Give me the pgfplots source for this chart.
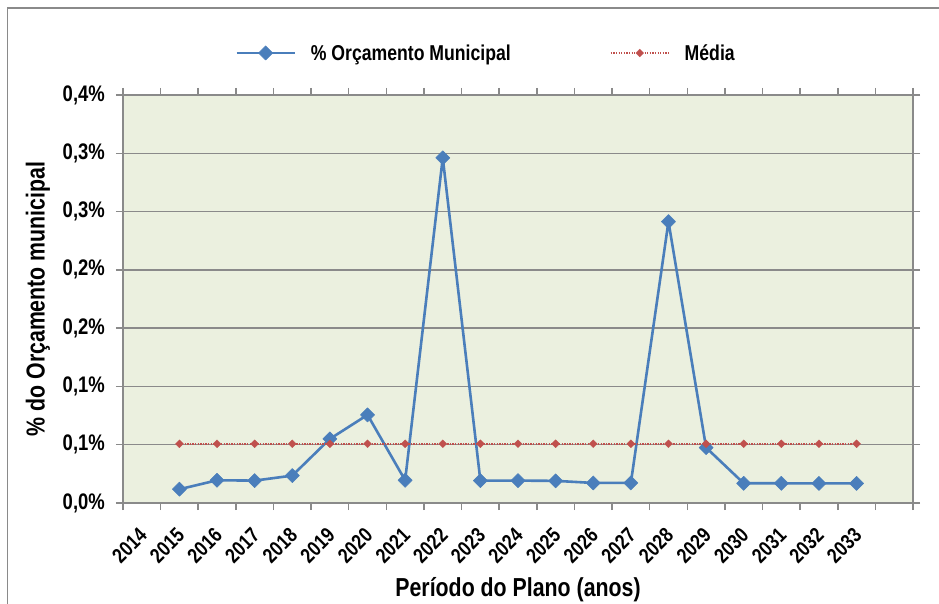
\documentclass[border=0pt]{standalone}
\usepackage{fontspec}
\setmainfont{Liberation Sans}[FakeStretch=0.82]
\usepackage{pgfplots}
\pgfplotsset{compat=1.18}
\definecolor{blu}{HTML}{4A7EBB}
\definecolor{rd}{HTML}{C0504D}
\definecolor{bg}{HTML}{EBF0DF}
\definecolor{gr}{HTML}{8A8A8A}
\pgfplotstableread{
x y
1.5 0.0118
2.5 0.0195
3.5 0.0192
4.5 0.0235
5.5 0.0550
6.5 0.0756
7.5 0.0195
8.5 0.2961
9.5 0.0192
10.5 0.0192
11.5 0.0190
12.5 0.0172
13.5 0.0172
14.5 0.2414
15.5 0.0475
16.5 0.0169
17.5 0.0169
18.5 0.0168
19.5 0.0168
}\orc
\pgfplotstableread{
x y
1.5 0.0508
2.5 0.0508
3.5 0.0508
4.5 0.0508
5.5 0.0508
6.5 0.0508
7.5 0.0508
8.5 0.0508
9.5 0.0508
10.5 0.0508
11.5 0.0508
12.5 0.0508
13.5 0.0508
14.5 0.0508
15.5 0.0508
16.5 0.0508
17.5 0.0508
18.5 0.0508
19.5 0.0508
}\media
\begin{document}
\begin{tikzpicture}
\path[use as bounding box] (0,0) rectangle (939bp,604bp);
\draw[color=gr, line width=1.5bp] (7.5bp,0) -- (7.5bp,596bp) -- (939bp,596bp);
\begin{axis}[
  at={(123bp,101bp)}, anchor=south west,
  scale only axis, width=790bp, height=408bp,
  xmin=0, xmax=21, ymin=0, ymax=0.35,
  axis background/.style={fill=bg},
  axis line style={gr, line width=1.5bp},
  tick align=outside,
  xtick={0.5,1.5,...,19.5},
  xticklabels={2014,2015,2016,2017,2018,2019,2020,2021,2022,2023,2024,2025,2026,2027,2028,2029,2030,2031,2032,2033},
  major x tick style={draw=none},
  minor xtick={0,1,...,21},
  minor tick length=7bp,
  minor tick style={gr, line width=1.5bp},
  ytick={0,0.05,...,0.36},
  yticklabels={{0,0\%},{0,1\%},{0,1\%},{0,2\%},{0,2\%},{0,3\%},{0,3\%},{0,4\%}},
  major tick length=7bp,
  major tick style={gr, line width=1.5bp},
  ymajorgrids=true,
  major grid style={gr, line width=1.5bp},
  xticklabel style={xshift=2bp, yshift=-21bp, rotate=45, anchor=east, font=\bfseries\fontsize{21bp}{23bp}\selectfont, inner sep=1bp},
  yticklabel style={font=\bfseries\fontsize{22.5bp}{24bp}\selectfont, inner sep=2bp, xshift=-9bp},
  xlabel={Período do Plano (anos)},
  ylabel={\% do Orçamento municipal},
  xlabel style={at={(axis description cs:0.5,-0.212)}, anchor=center, font=\bfseries\fontsize{26bp}{30bp}\selectfont},
  ylabel style={at={(axis description cs:-0.1076,0.5)}, anchor=center, rotate=0, font=\bfseries\fontsize{26bp}{30bp}\selectfont},
  legend columns=2,
  legend style={at={(0.4595,1.103)}, anchor=center, draw=none, fill=none,
    font=\bfseries\fontsize{21.5bp}{24bp}\selectfont,
    /tikz/every odd column/.append style={column sep=13bp},
    /tikz/every even column/.append style={column sep=97bp}},
  legend image code/.code={\draw[mark repeat=2,mark phase=2,#1] plot coordinates {(0bp,0bp) (29bp,0bp) (58bp,0bp)};},
]
\addplot[color=blu, line width=2.6bp, line join=round, mark=square*, mark size=5bp, mark options={rotate=45, fill=blu, draw=blu, line width=0.5bp, solid}] table[x=x,y=y] {\orc};
\addlegendentry{\% Orçamento Municipal}
\addplot[color=rd, line width=2bp, dash pattern=on 1.3bp off 1.3bp, mark=square*, mark size=2.8bp, mark options={rotate=45, fill=rd, draw=rd, line width=0.3bp, solid}] table[x=x,y=y] {\media};
\addlegendentry{Média}
\end{axis}
\end{tikzpicture}
\end{document}
